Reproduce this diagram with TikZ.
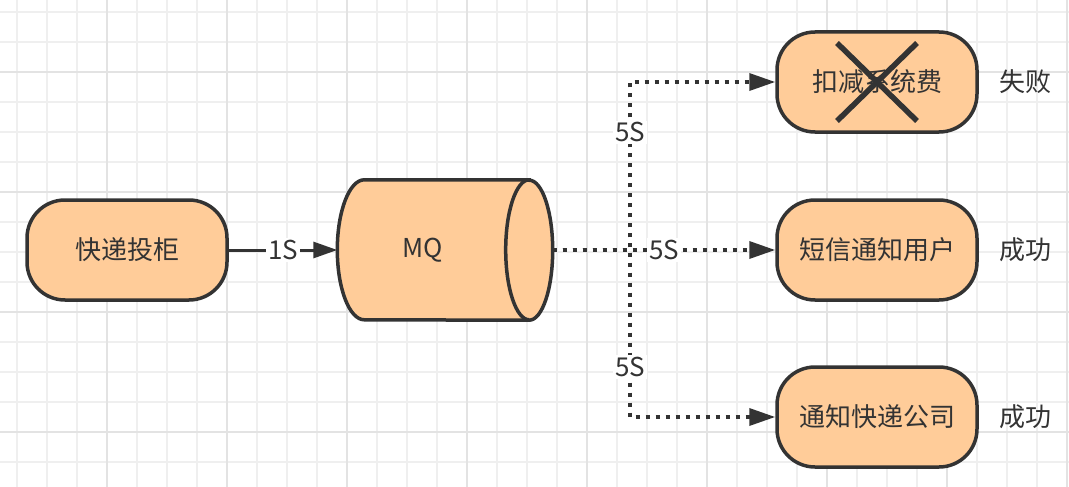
\documentclass[tikz,border=0pt]{standalone}
\usepackage{fontspec}
\setmainfont{Noto Sans CJK SC}
\usetikzlibrary{arrows.meta,positioning}
\definecolor{boxfill}{HTML}{FFCC99}
\definecolor{ink}{HTML}{333333}
\definecolor{gridminor}{HTML}{EFEFEF}
\definecolor{gridmajor}{HTML}{E3E3E3}
\tikzset{
  txt/.style={text=ink,font=\fontsize{26}{30}\selectfont},
  box/.style={txt,draw=ink,fill=boxfill,line width=3.5pt,rounded corners=38pt,
    minimum width=200pt,minimum height=100pt},
  queuebox/.style={inner sep=0pt,minimum width=215pt,minimum height=140pt},
  queueline/.style={draw=ink,fill=boxfill,line width=3.5pt},
  lbl/.style={txt,fill=white,inner sep=2pt},
  solidarrow/.style={draw=ink,line width=3pt,-{Triangle[length=24pt,width=16pt]}},
  dotarrow/.style={draw=ink,line width=3.5pt,dash pattern=on 4pt off 6pt,
    -{Triangle[length=26pt,width=17pt]}},
  cross/.style={draw=ink,line width=5.5pt}
}

\begin{document}
\begin{tikzpicture}[x=1pt,y=-1pt]
    \useasboundingbox[fill=white] (0,0) rectangle (1069,487);
    % grid
    \foreach \x in {17,47,...,1067}
        \draw[gridminor,line width=1.5pt] (\x,0) -- (\x,487);
    \foreach \y in {12,42,...,482}
        \draw[gridminor,line width=1.5pt] (0,\y) -- (1069,\y);
    \foreach \x in {107,227,...,1067}
        \draw[gridmajor,line width=1.5pt] (\x,0) -- (\x,487);
    \foreach \y in {72,192,...,432}
        \draw[gridmajor,line width=1.5pt] (0,\y) -- (1069,\y);

    % boxes
    \node[box] (locker) at (127,250) {快递投柜};
    \node[queuebox] (mq) at (445,250) {};
    \draw[queueline] ([xshift=-23.5pt]mq.north east) -- ([xshift=27pt]mq.north west)
        arc[start angle=90,end angle=270,x radius=27pt,y radius=70pt]
        -- ([xshift=-23.5pt]mq.south east)
        arc[start angle=-90,end angle=90,x radius=23.5pt,y radius=70pt] -- cycle;
    \draw[queueline,fill=none] ([xshift=-23.5pt]mq.north east)
        arc[start angle=90,end angle=270,x radius=23.5pt,y radius=70pt];
    \node[txt] (mqlabel) at ([xshift=-22pt]mq.center) {MQ};
    \node[box] (fee) at (877,82) {扣减系统费};
    \node[box] (sms) at (877,250) {短信通知用户};
    \node[box] (notify) at (877,417) {通知快递公司};
    \coordinate (split) at (630,250);

    % results
    \node[txt] (feeres) at (1025,82) {失败};
    \node[txt] (smsres) at (1025,250) {成功};
    \node[txt] (notifyres) at (1025,417) {成功};

    % edges
    \draw[solidarrow] (locker) -- node[lbl]{1S} (mq.west);
    \draw[dotarrow] (mq.east) -- (split) |- node[lbl,pos=0.35]{5S} (fee);
    \draw[dotarrow] (mq.east) -- node[lbl]{5S} (sms);
    \draw[dotarrow] (mq.east) -- (split) |- node[lbl,pos=0.35]{5S} (notify);

    % failed
    \draw[cross] ([shift={(-40,-39)}]fee.center) -- ([shift={(40,39)}]fee.center);
    \draw[cross] ([shift={(40,-39)}]fee.center) -- ([shift={(-40,39)}]fee.center);
\end{tikzpicture}
\end{document}
